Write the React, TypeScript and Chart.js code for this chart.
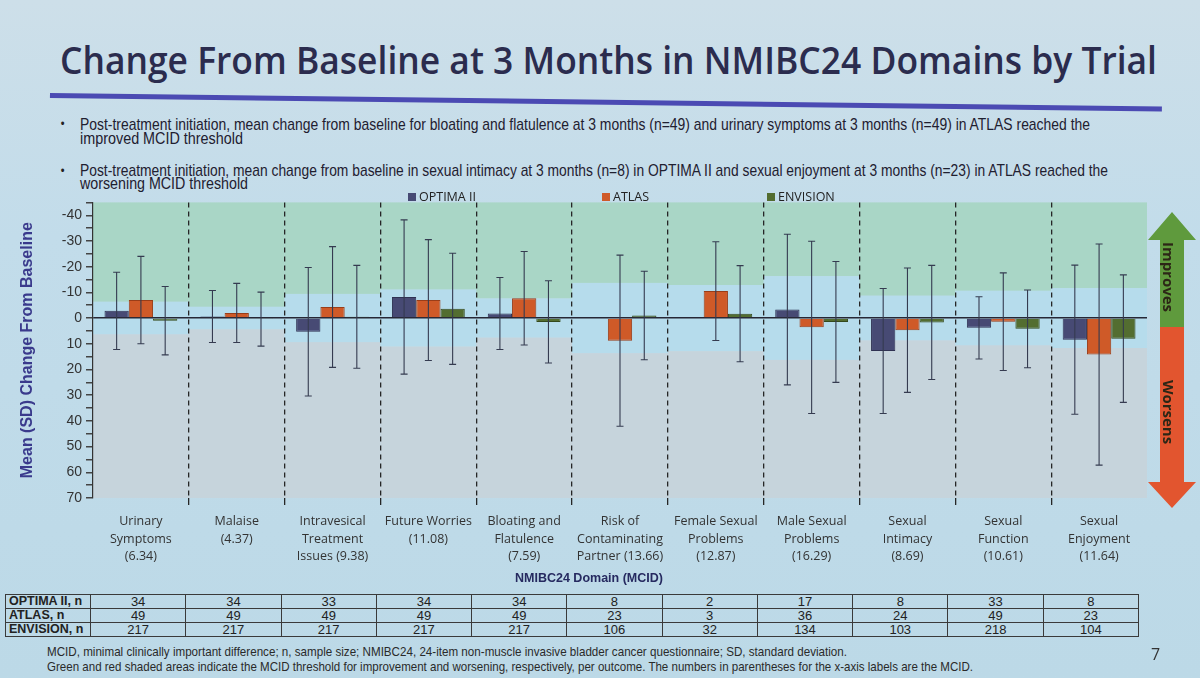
import React, { useEffect, useLayoutEffect, useRef } from 'react';
import { Chart, registerables } from 'chart.js';

Chart.register(...registerables);

// ---------- data ----------
const categoryLabels: string[][] = [
  ['Urinary', 'Symptoms', '(6.34)'],
  ['Malaise', '(4.37)'],
  ['Intravesical', 'Treatment', 'Issues (9.38)'],
  ['Future Worries', '(11.08)'],
  ['Bloating and', 'Flatulence', '(7.59)'],
  ['Risk of', 'Contaminating', 'Partner (13.66)'],
  ['Female Sexual', 'Problems', '(12.87)'],
  ['Male Sexual', 'Problems', '(16.29)'],
  ['Sexual', 'Intimacy', '(8.69)'],
  ['Sexual', 'Function', '(10.61)'],
  ['Sexual', 'Enjoyment', '(11.64)'],
];
const mcidValues = [6.34, 4.37, 9.38, 11.08, 7.59, 13.66, 12.87, 16.29, 8.69, 10.61, 11.64];

const seriesNames = ['OPTIMA II', 'ATLAS', 'ENVISION'];
const optimaMean = [-2.8, -0.6, 5.3, -8.2, -1.8, null, null, -3.3, 12.8, 3.8, 8.4];
const optimaSD = [15, 10.1, 25, 30, 14, null, null, 29.3, 24.3, 12.1, 29];
const atlasMean = [-7, -2, -4.3, -7, -7.7, 8.8, -10.5, 3.6, 4.7, 1.4, 14.2];
const atlasSD = [17, 11.5, 23.5, 23.5, 18.2, 33.3, 19.2, 33.5, 24.2, 19, 43];
const envisionMean = [1, 0.4, -0.5, -3.6, 1.5, -1, -1.7, 1.5, 1.7, 4.2, 8];
const envisionSD = [13.3, 10.5, 20, 21.6, 16, 17.2, 18.7, 23.5, 22.2, 15.1, 24.8];

const optimaN = [34, 34, 33, 34, 34, 8, 2, 17, 8, 33, 8];
const atlasN = [49, 49, 49, 49, 49, 23, 3, 36, 24, 49, 23];
const envisionN = [217, 217, 217, 217, 217, 106, 32, 134, 103, 218, 104];
const tableRowLabels = ['OPTIMA II, n', 'ATLAS, n', 'ENVISION, n'];

const yMajorTicks = [-40, -30, -20, -10, 0, 10, 20, 30, 40, 50, 60, 70];
const yMinorTicks = [-45, -35, -25, -15, -5, 5, 15, 25, 35, 45, 55, 65];

const titleText = 'Change From Baseline at 3 Months in NMIBC24 Domains by Trial';
const bullet1 = [
  'Post-treatment initiation, mean change from baseline for bloating and flatulence at 3 months (n=49) and urinary symptoms at 3 months (n=49) in ATLAS reached the',
  'improved MCID threshold',
];
const bullet2 = [
  'Post-treatment initiation, mean change from baseline in sexual intimacy at 3 months (n=8) in OPTIMA II and sexual enjoyment at 3 months (n=23) in ATLAS reached the',
  'worsening MCID threshold',
];
const footnotes = [
  'MCID, minimal clinically important difference; n, sample size; NMIBC24, 24-item non-muscle invasive bladder cancer questionnaire; SD, standard deviation.',
  'Green and red shaded areas indicate the MCID threshold for improvement and worsening, respectively, per outcome. The numbers in parentheses for the x-axis labels are the MCID.',
];
const xAxisTitle = 'NMIBC24 Domain (MCID)';
const yAxisTitle = 'Mean (SD) Change From Baseline';

// ---------- styles ----------
const seriesColors = ['#474a74', '#cf5a28', '#536d30'];
const seriesBorders = ['#2f3152', '#9a3d18', '#34491c'];
const sdSets = [optimaSD, atlasSD, envisionSD];
const meanSets = [optimaMean, atlasMean, envisionMean];
const nSets = [optimaN, atlasN, envisionN];

const narrowFont = "'Liberation Sans Narrow', 'Liberation Sans', Arial, sans-serif";

function FitLine(props: { text: string; left: number; top: number; width: number; style?: React.CSSProperties }) {
  const ref = useRef<HTMLDivElement>(null);
  useLayoutEffect(() => {
    const el = ref.current;
    if (!el) return;
    el.style.transform = 'none';
    const w = el.getBoundingClientRect().width;
    if (w > 0) el.style.transform = `scaleX(${props.width / w})`;
  }, [props.text, props.width]);
  return (
    <div
      ref={ref}
      style={{
        position: 'absolute',
        left: props.left,
        top: props.top,
        whiteSpace: 'nowrap',
        transformOrigin: '0 0',
        ...props.style,
      }}
    >
      {props.text}
    </div>
  );
}

const bandsPlugin = {
  id: 'mcidBands',
  beforeDraw(chart: any) {
    const { ctx, chartArea: ca, scales } = chart;
    const x = scales.x;
    const y = scales.y;
    const n = categoryLabels.length;
    const w = (ca.right - ca.left) / n;
    ctx.save();
    for (let i = 0; i < n; i++) {
      const cx = x.getPixelForValue(i);
      const left = cx - w / 2;
      const yg = y.getPixelForValue(-mcidValues[i]);
      const yr = y.getPixelForValue(mcidValues[i]);
      ctx.fillStyle = '#a9d6c6';
      ctx.fillRect(left, ca.top, w, yg - ca.top);
      ctx.fillStyle = '#b6dcec';
      ctx.fillRect(left, yg, w, yr - yg);
      ctx.fillStyle = '#c6d4dc';
      ctx.fillRect(left, yr, w, ca.bottom - yr);
    }
    ctx.restore();
  },
};

const errorBarPlugin = {
  id: 'errorBars',
  afterDatasetsDraw(chart: any) {
    const { ctx, scales } = chart;
    const y = scales.y;
    ctx.save();
    ctx.strokeStyle = '#353b50';
    ctx.lineWidth = 1.1;
    chart.data.datasets.forEach((ds: any, di: number) => {
      const meta = chart.getDatasetMeta(di);
      const sd = sdSets[di];
      meta.data.forEach((el: any, i: number) => {
        const m = ds.data[i];
        if (m == null || sd[i] == null) return;
        const px = el.x;
        const y1 = y.getPixelForValue(m - (sd[i] as number));
        const y2 = y.getPixelForValue(m + (sd[i] as number));
        ctx.beginPath();
        ctx.moveTo(px, y1);
        ctx.lineTo(px, y2);
        ctx.moveTo(px - 3.5, y1);
        ctx.lineTo(px + 3.5, y1);
        ctx.moveTo(px - 3.5, y2);
        ctx.lineTo(px + 3.5, y2);
        ctx.stroke();
      });
    });
    ctx.restore();
  },
};

function BarChart() {
  const ref = useRef<HTMLCanvasElement>(null);
  useEffect(() => {
    if (!ref.current) return;
    const dividerColor = (c: any) => (c.type === 'tick' && c.index > 0 ? '#262626' : 'rgba(0,0,0,0)');
    const chart = new Chart(ref.current, {
      type: 'bar',
      data: {
        labels: categoryLabels,
        datasets: seriesNames.map((name, i) => ({
          label: name,
          data: meanSets[i] as any,
          backgroundColor: seriesColors[i],
          borderColor: seriesBorders[i],
          borderWidth: 1,
          categoryPercentage: 0.76,
          barPercentage: 1,
        })),
      },
      options: {
        animation: false,
        responsive: false,
        devicePixelRatio: 1,
        layout: { padding: { left: 18, right: 53, top: 9, bottom: 0 } },
        plugins: { legend: { display: false }, tooltip: { enabled: false } },
        scales: {
          x: {
            offset: true,
            grid: {
              offset: true,
              color: dividerColor,
              tickColor: dividerColor,
              lineWidth: 1.3,
              drawTicks: true,
              tickLength: 7,
            },
            border: { display: false, dash: [5, 4] },
            ticks: {
              color: '#333',
              font: { family: "'Open Sans', sans-serif", size: 12.5, lineHeight: 1.4 },
              padding: 8,
              maxRotation: 0,
              autoSkip: false,
            },
            afterFit: (s: any) => {
              s.height = 92;
            },
          },
          y: {
            reverse: true,
            min: -45,
            max: 70,
            afterBuildTicks: (axis: any) => {
              axis.ticks = [...yMinorTicks, ...yMajorTicks].sort((a, b) => a - b).map((v) => ({ value: v }));
            },
            ticks: {
              callback: (v: any) => (yMajorTicks.includes(Number(v)) ? String(v) : ''),
              color: '#333',
              font: { family: "'Liberation Sans', Arial, sans-serif", size: 14 },
              padding: 4,
              autoSkip: false,
            },
            grid: {
              color: (c: any) => (c.tick && c.tick.value === 0 ? '#262735' : 'rgba(0,0,0,0)'),
              lineWidth: 1.5,
              drawTicks: true,
              tickLength: 7,
              tickColor: '#444',
            },
            border: { display: true, color: '#333', width: 1.2 },
            title: {
              display: true,
              text: yAxisTitle,
              color: '#3a3a8c',
              font: { family: "'Liberation Sans', Arial, sans-serif", size: 16, weight: 'bold' },
              padding: { top: 0, bottom: 0 },
            },
            afterFit: (s: any) => {
              s.width = 75;
            },
          },
        },
      } as any,
      plugins: [bandsPlugin, errorBarPlugin],
    });
    return () => chart.destroy();
  }, []);
  return <canvas ref={ref} width={1200} height={400} style={{ position: 'absolute', left: 0, top: 190, width: 1200, height: 400 }} />;
}

function Arrow() {
  return (
    <svg width={60} height={320} style={{ position: 'absolute', left: 1140, top: 200 }}>
      <polygon points="32,12 56,40 44,40 44,127 20,127 20,40 8,40" fill="#5f9a3d" />
      <polygon points="20,127 44,127 44,282 56,282 32,308 8,282 20,282" fill="#e2552f" />
      <text
        x={0}
        y={0}
        transform="translate(27,77) rotate(90)"
        textAnchor="middle"
        dominantBaseline="middle"
        fontFamily="'Open Sans', sans-serif"
        fontWeight="bold"
        fontSize={15}
        fill="#2c2616"
      >
        Improves
      </text>
      <text
        x={0}
        y={0}
        transform="translate(27,212) rotate(90)"
        textAnchor="middle"
        dominantBaseline="middle"
        fontFamily="'Open Sans', sans-serif"
        fontWeight="bold"
        fontSize={15}
        fill="#2c2616"
      >
        Worsens
      </text>
    </svg>
  );
}

function DataTable() {
  const firstCol = 85;
  const total = 1133;
  const colW = (total - firstCol) / categoryLabels.length;
  const cell: React.CSSProperties = {
    border: '1px solid #3a3a3a',
    padding: 0,
    height: 13,
    lineHeight: '13px',
    fontSize: 13,
    textAlign: 'center',
    color: '#222',
  };
  return (
    <table
      style={{
        position: 'absolute',
        left: 5,
        top: 594,
        width: total,
        borderCollapse: 'collapse',
        tableLayout: 'fixed',
        fontFamily: narrowFont,
      }}
    >
      <colgroup>
        <col style={{ width: firstCol }} />
        {categoryLabels.map((_, i) => (
          <col key={i} style={{ width: colW }} />
        ))}
      </colgroup>
      <tbody>
        {tableRowLabels.map((rl, r) => (
          <tr key={r}>
            <td style={{ ...cell, textAlign: 'left', paddingLeft: 3, fontWeight: 'bold', fontSize: 12.5 }}>{rl}</td>
            {nSets[r].map((v, i) => (
              <td key={i} style={cell}>
                {v}
              </td>
            ))}
          </tr>
        ))}
      </tbody>
    </table>
  );
}

export default function App() {
  const legendBoxX = [408, 602, 767];
  const bulletStyle: React.CSSProperties = { fontFamily: narrowFont, fontSize: 17, lineHeight: '17px', color: '#1f2030' };
  const footStyle: React.CSSProperties = { fontFamily: narrowFont, fontSize: 13.5, lineHeight: '13.5px', color: '#2a2a2a' };
  return (
    <div
      style={{
        position: 'absolute',
        left: 0,
        top: 0,
        width: 1200,
        height: 678,
        overflow: 'hidden',
        background: 'linear-gradient(180deg, #cddfe9 0%, #c2dcea 35%, #bcd9e7 100%)',
        fontFamily: "'Open Sans', sans-serif",
      }}
    >
      <FitLine
        text={titleText}
        left={60}
        top={40}
        width={1097}
        style={{ fontFamily: "'Open Sans', sans-serif", fontWeight: 600, fontSize: 38, lineHeight: '38px', color: '#2b2c4e' }}
      />
      <div
        style={{
          position: 'absolute',
          left: 50,
          top: 93,
          width: 1112,
          height: 5,
          background: '#4b4ab3',
          transform: 'rotate(0.7deg)',
          transformOrigin: '0 0',
        }}
      />
      <div style={{ position: 'absolute', left: 60, top: 114, fontSize: 14, color: '#222' }}>•</div>
      <FitLine text={bullet1[0]} left={80} top={116} width={1010} style={bulletStyle} />
      <FitLine text={bullet1[1]} left={80} top={130} width={163} style={bulletStyle} />
      <div style={{ position: 'absolute', left: 60, top: 161, fontSize: 14, color: '#222' }}>•</div>
      <FitLine text={bullet2[0]} left={80} top={162} width={1028} style={bulletStyle} />
      <FitLine text={bullet2[1]} left={80} top={175} width={168} style={bulletStyle} />

      <BarChart />

      {seriesNames.map((name, i) => (
        <React.Fragment key={name}>
          <div
            style={{
              position: 'absolute',
              left: legendBoxX[i],
              top: 193,
              width: 8,
              height: 8,
              background: seriesColors[i],
            }}
          />
          <div
            style={{
              position: 'absolute',
              left: legendBoxX[i] + 11,
              top: 189,
              fontSize: 12.5,
              lineHeight: '16px',
              color: '#222',
              whiteSpace: 'nowrap',
            }}
          >
            {name}
          </div>
        </React.Fragment>
      ))}

      <Arrow />

      <div
        style={{
          position: 'absolute',
          left: 489,
          width: 200,
          top: 570,
          textAlign: 'center',
          fontFamily: "'Liberation Sans', Arial, sans-serif",
          fontWeight: 'bold',
          fontSize: 12.5,
          lineHeight: '16px',
          color: '#262a60',
        }}
      >
        {xAxisTitle}
      </div>

      <DataTable />

      <FitLine text={footnotes[0]} left={47} top={645} width={800} style={footStyle} />
      <FitLine text={footnotes[1]} left={47} top={660} width={926} style={footStyle} />
      <div style={{ position: 'absolute', left: 1151, top: 643, fontSize: 16, color: '#333' }}>7</div>
    </div>
  );
}
